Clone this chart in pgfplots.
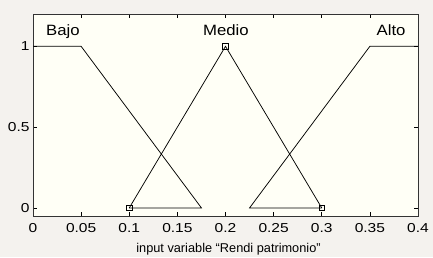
\documentclass[border=0pt]{standalone}
\usepackage{pgfplots}
\pgfplotsset{compat=1.18}
\usepackage{fontspec}
\setmainfont{Liberation Sans}
\newfontfamily\tickfont[FakeStretch=1.2]{Liberation Sans}
\newfontfamily\titlefont[FakeStretch=1.12]{Liberation Sans}
\definecolor{figbg}{RGB}{244,242,238}
\definecolor{axbg}{RGB}{255,255,246}
\begin{document}
\begin{tikzpicture}
\fill[figbg] (0,0) rectangle (433bp,257bp);
\begin{axis}[
  at={(33bp,41bp)}, anchor=south west,
  scale only axis, width=385bp, height=202bp,
  xmin=0, xmax=0.4, ymin=-0.05, ymax=1.2,
  axis background/.style={fill=axbg},
  xtick={0,0.05,0.1,0.15,0.2,0.25,0.3,0.35,0.4},
  xticklabels={0,0.05,0.1,0.15,0.2,0.25,0.3,0.35,0.4},
  ytick={0,0.5,1}, yticklabels={0,0.5,1},
  tick align=inside, xtick pos=both, ytick pos=both,
  major tick length=4bp,
  tick style={black, line width=0.6pt},
  axis line style={line width=0.8pt, black!80},
  ticklabel style={font=\tickfont\fontsize{13}{13}\selectfont},
  xticklabel style={yshift=-3.5bp},
  /pgf/number format/assume math mode=true,
  xlabel={input variable “Rendi patrimonio”},
  xlabel style={font=\fontsize{12.8}{12.8}\selectfont, at={(axis description cs:0.5,0)}, anchor=base, yshift=-36bp, xshift=3bp},
  clip=false,
]
\addplot[black, line width=0.75pt] coordinates {(0,1) (0.05,1) (0.175,0) (0.1,0)};
\addplot[black, line width=0.75pt] coordinates {(0.3,0) (0.225,0) (0.35,1) (0.4,1)};
\addplot[black, line width=0.75pt] coordinates {(0.1,0) (0.2,1) (0.3,0)};
\addplot[only marks, mark=square, mark size=2.8bp, mark options={black, line width=0.7pt}] coordinates {(0.1,0) (0.2,1) (0.3,0)};
\node[font=\titlefont\fontsize{15}{15}\selectfont, anchor=base] at (axis cs:0.031,1.065) {Bajo};
\node[font=\titlefont\fontsize{15}{15}\selectfont, anchor=base] at (axis cs:0.2005,1.065) {Medio};
\node[font=\titlefont\fontsize{15}{15}\selectfont, anchor=base] at (axis cs:0.372,1.065) {Alto};
\end{axis}
\end{tikzpicture}
\end{document}
